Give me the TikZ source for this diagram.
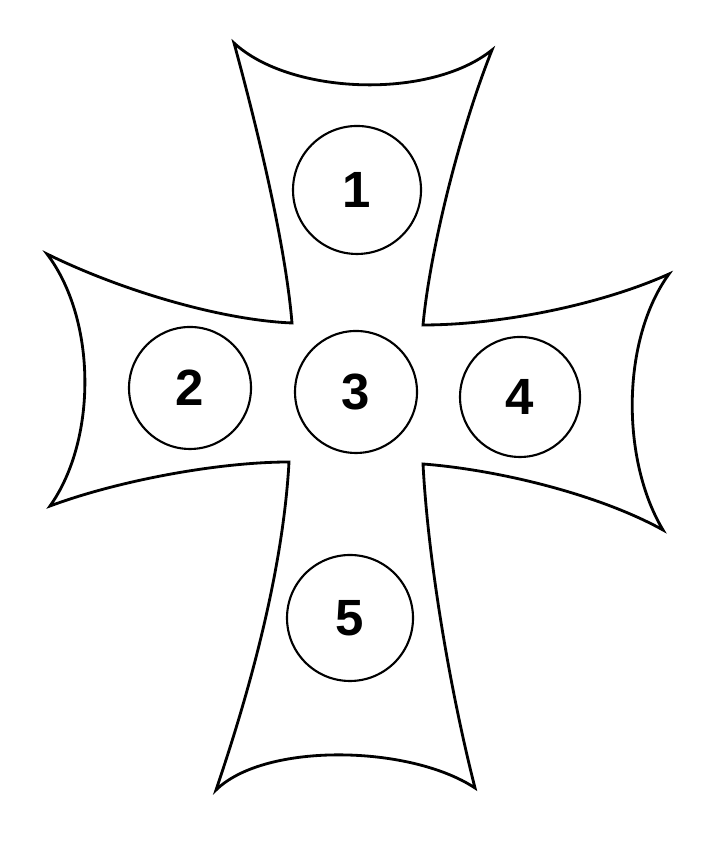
\documentclass[tikz,border=0pt]{standalone}
\usepackage{fontspec}
\setmainfont{Liberation Sans}
\usepackage{tikz}

\begin{document}
\begin{tikzpicture}[spot/.style={circle, draw, line width=0.6pt, inner sep=0pt, font=\fontsize{14.5}{17}\selectfont\bfseries}]
  \useasboundingbox (0,0) rectangle (7.18,8.5);
  \draw[line width=0.8pt, line join=miter] (2.34,8.07)
    .. controls (2.90,7.55) and (4.30,7.50) .. (4.92,8.00)
    .. controls (4.60,7.20) and (4.30,6.00) .. (4.23,5.25)
    .. controls (5.00,5.25) and (6.00,5.45) .. (6.69,5.76)
    .. controls (6.21,5.10) and (6.21,3.90) .. (6.63,3.20)
    .. controls (6.00,3.55) and (5.00,3.80) .. (4.23,3.86)
    .. controls (4.28,2.90) and (4.50,1.60) .. (4.75,0.62)
    .. controls (4.10,1.05) and (2.65,1.08) .. (2.16,0.60)
    .. controls (2.50,1.60) and (2.83,2.80) .. (2.89,3.88)
    .. controls (2.20,3.88) and (1.20,3.70) .. (0.50,3.44)
    .. controls (0.97,4.10) and (0.97,5.30) .. (0.47,5.96)
    .. controls (1.20,5.60) and (2.20,5.30) .. (2.92,5.27)
    .. controls (2.85,6.10) and (2.55,7.30) .. cycle;
  \node[spot, minimum size=1.28cm] (one) at (3.57,6.60) {1};
  \node[spot, minimum size=1.22cm] (two) at (1.90,4.62) {2};
  \node[spot, minimum size=1.22cm] (three) at (3.56,4.58) {3};
  \node[spot, minimum size=1.20cm] (four) at (5.20,4.53) {4};
  \node[spot, minimum size=1.26cm] (five) at (3.50,2.32) {5};
\end{tikzpicture}
\end{document}
